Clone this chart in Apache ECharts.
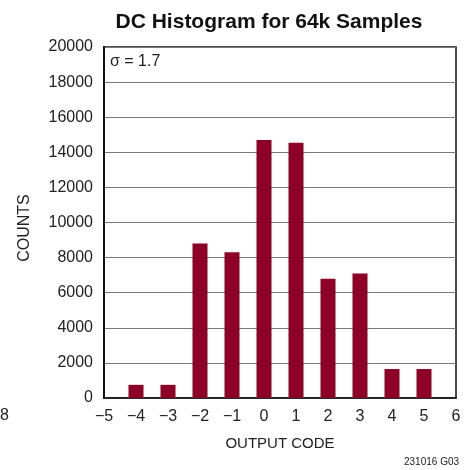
<!DOCTYPE html>
<html><head><meta charset="utf-8">
<script src="https://cdn.jsdelivr.net/npm/echarts@6/dist/echarts.min.js"></script>
<style>html,body{margin:0;padding:0;background:#fff}#c{width:476px;height:470px}</style>
</head><body><div id="c"></div>
<script>
const codes = [-4, -3, -2, -1, 0, 1, 2, 3, 4, 5];
const counts = [750, 750, 8800, 8300, 14700, 14550, 6800, 7100, 1650, 1650];
const xTicks = [-5, -4, -3, -2, -1, 0, 1, 2, 3, 4, 5, 6];
const yTicks = [0, 2000, 4000, 6000, 8000, 10000, 12000, 14000, 16000, 18000, 20000];

const FONT = '"Liberation Sans Narrow", "Liberation Sans", sans-serif';
const fmtX = v => (v < 0 ? '\u2212' + Math.abs(v) : String(v));

const chart = echarts.init(document.getElementById('c'), null, {renderer: 'canvas'});
chart.setOption({
  animation: false,
  backgroundColor: '#fff',
  title: {
    text: 'DC Histogram for 64k Samples',
    left: 264, top: 7, textAlign: 'center',
    textStyle: {fontFamily: FONT, fontWeight: 'bold', fontSize: 21, color: '#111'}
  },
  grid: {left: 104, top: 47, width: 352, height: 351, show: true, borderColor: '#111', borderWidth: 1.5, containLabel: false},
  xAxis: {
    type: 'value', min: xTicks[0], max: xTicks[xTicks.length - 1], interval: 1,
    name: 'OUTPUT CODE', nameLocation: 'middle', nameGap: 38,
    nameTextStyle: {fontFamily: FONT, fontSize: 15, color: '#222'},
    axisLine: {show: true, onZero: false, lineStyle: {color: '#111', width: 1.5}},
    axisTick: {show: false},
    splitLine: {show: false},
    axisLabel: {fontFamily: FONT, fontSize: 16, color: '#222', margin: 11, formatter: fmtX}
  },
  yAxis: {
    type: 'value', min: yTicks[0], max: yTicks[yTicks.length - 1], interval: 2000,
    axisLine: {show: true, onZero: false, lineStyle: {color: '#111', width: 2}},
    axisTick: {show: false},
    splitLine: {show: true, lineStyle: {color: '#7a7a7a', width: 1.2}},
    axisLabel: {fontFamily: FONT, fontSize: 16, color: '#222', margin: 11, formatter: v => String(v)}
  },
  series: [{
    type: 'bar',
    data: codes.map((c, i) => [c, counts[i]]),
    barWidth: 15,
    itemStyle: {color: '#8c0028'}
  }],
  graphic: [
    {type: 'text', x: 25, y: 228, rotation: Math.PI / 2,
     style: {text: 'COUNTS', fontFamily: FONT, fontSize: 16, fill: '#222', align: 'center', verticalAlign: 'middle'}},
    {type: 'text', left: 110, top: 54, style: {text: '\u03c3 = 1.7', fontFamily: FONT, fontSize: 16, fill: '#222'}},
    {type: 'text', left: 404, top: 457, style: {text: '231016 G03', fontFamily: FONT, fontSize: 10, fill: '#222'}},
    {type: 'text', left: 0, top: 408, style: {text: '8', fontFamily: FONT, fontSize: 16, fill: '#222'}}
  ]
});
</script></body></html>
